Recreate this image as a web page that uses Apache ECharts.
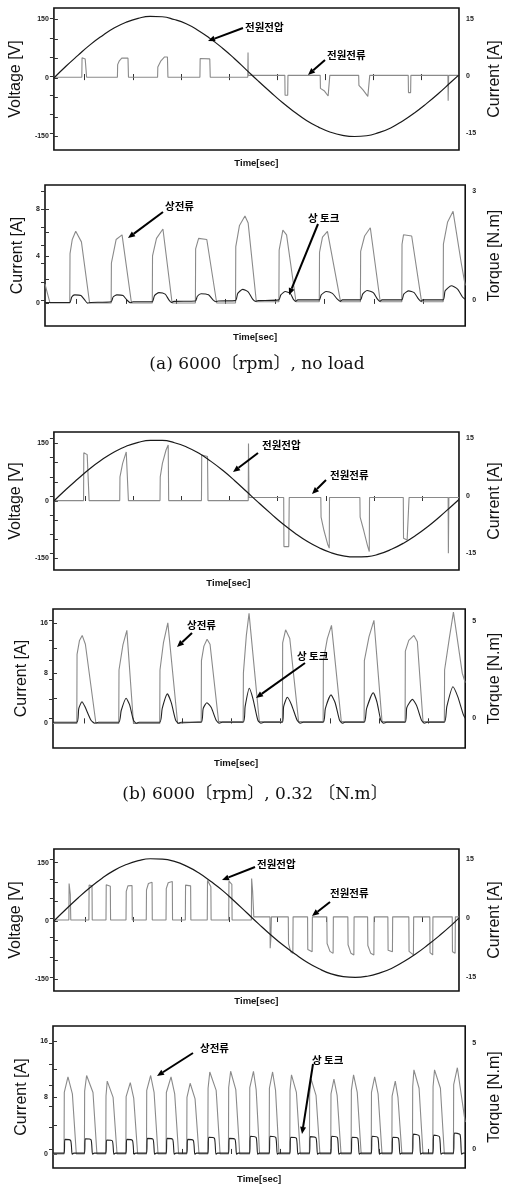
<!DOCTYPE html>
<html>
<head>
<meta charset="utf-8">
<script src="https://cdn.jsdelivr.net/npm/echarts@6.0.0/dist/echarts.min.js"></script>
<style>
  html, body { margin: 0; padding: 0; background: #fff; }
  #chart { width: 511px; height: 1186px; }
</style>
</head>
<body>
<div id="chart"></div>
<script>
// time in ms

// (a) 6000 rpm, no load
var voltA = [[0,0],[0.5,30],[1,58],[1.5,85],[2,108],[2.5,128],[3,143],[3.5,153],[4,158],[4.5,157],[5,150],[5.5,139],[6,122],[6.5,101],[7,77],[7.5,50],[8,21],[8.5,-8],[9,-36],[9.5,-63],[10,-87],[10.5,-109],[11,-126],[11.5,-139],[12,-147],[12.5,-150],[13,-148],[13.5,-140],[14,-128],[14.5,-110],[15,-89],[15.5,-65],[16,-39],[16.5,-11],[16.84,8]];
var lineCurA = [
  [0,-0.3],[1.16,-0.3],[1.17,4.8],[1.3,4.5],[1.35,4.4],[1.36,-0.3],
  [2.64,-0.3],[2.65,3.0],[2.72,4.0],[2.82,4.7],[3.08,4.7],[3.1,-0.3],
  [4.31,-0.3],[4.32,2.4],[4.45,4.0],[4.6,5.0],[4.72,5.0],[4.74,-0.3],
  [6.07,-0.3],[6.08,4.6],[6.48,4.5],[6.5,-0.3],
  [8.06,-0.3],[8.07,6.2],[8.08,0.2],
  [9.6,0.2],[9.61,-5.0],[9.72,-5.0],[9.73,0.2],
  [11.07,0.2],[11.08,-3.2],[11.25,-3.9],[11.4,-5.2],[11.46,-5.2],[11.47,0.2],
  [12.67,0.2],[12.68,-2.4],[12.85,-3.6],[13.05,-5.3],[13.12,-5.3],[13.13,0.2],
  [14.73,0.2],[14.74,-4.3],[14.83,-4.3],[14.84,0.2],
  [16.38,0.2],[16.39,-6.4],[16.41,0.2],[16.84,0.2]
];
var phaseCurA = [
  [0,1.6],[0.2,0],
  [1.0,0],[1.01,4.2],[1.1,5.4],[1.24,6.1],[1.47,5.2],[1.8,0],
  [2.67,0],[2.68,3.4],[2.87,5.4],[3.11,5.8],[3.49,0],
  [4.33,0],[4.34,4.0],[4.5,5.5],[4.76,6.3],[5.13,0],
  [6.07,0],[6.08,4.6],[6.2,5.5],[6.53,5.4],[6.93,0],
  [7.69,0],[7.7,4.8],[7.85,6.6],[8.07,7.4],[8.2,6.8],[8.53,0.1],
  [9.44,0.1],[9.45,4.5],[9.6,6.2],[9.75,5.8],[10.13,0.1],
  [11.07,0.1],[11.08,4.3],[11.2,5.6],[11.4,6.1],[11.93,0.1],
  [12.73,0.1],[12.74,4.4],[12.9,5.7],[13.13,6.4],[13.53,0.1],
  [14.4,0.1],[14.41,5.0],[14.47,5.8],[14.8,5.7],[15.2,0.1],
  [16.07,0.1],[16.08,5.0],[16.25,6.9],[16.47,7.8],[16.8,3.4],[16.96,1.5]
];
var torqueA = [
  [0,-0.07],
  [1.0,-0.07],[1.08,0.08],[1.2,0.14],[1.45,0.12],[1.6,0.0],[1.72,-0.09],[1.85,-0.07],
  [2.67,-0.05],[2.75,0.08],[2.9,0.14],[3.15,0.12],[3.3,0.0],[3.45,-0.08],[3.55,-0.05],
  [4.33,-0.05],[4.42,0.12],[4.6,0.2],[4.85,0.16],[5.0,0.0],[5.1,-0.07],[5.2,-0.04],
  [6.07,-0.03],[6.15,0.1],[6.3,0.17],[6.6,0.14],[6.78,0.0],[6.9,-0.05],[7.0,-0.03],
  [7.69,-0.02],[7.78,0.18],[7.98,0.29],[8.2,0.22],[8.38,0.02],[8.5,-0.04],[8.6,-0.02],
  [9.44,0],[9.52,0.14],[9.7,0.23],[9.9,0.18],[10.02,0.02],[10.12,-0.04],[10.2,0],
  [11.07,0],[11.15,0.14],[11.35,0.23],[11.6,0.18],[11.8,0.02],[11.92,-0.04],[12.0,0],
  [12.73,0],[12.82,0.16],[13.0,0.26],[13.25,0.2],[13.42,0.02],[13.52,-0.04],[13.6,0],
  [14.4,0],[14.48,0.16],[14.68,0.25],[14.9,0.2],[15.08,0.02],[15.18,-0.04],[15.25,0],
  [16.07,0],[16.15,0.25],[16.4,0.39],[16.65,0.3],[16.85,0.08],[16.96,0.02]
];

// (b) 6000 rpm, 0.32 N.m
var voltB = [[0,0],[0.5,30],[1,58],[1.5,85],[2,108],[2.5,128],[3,143],[3.5,153],[4,158],[4.5,158],[5,152],[5.5,141],[6,125],[6.5,104],[7,80],[7.5,53],[8,24],[8.5,-5],[9,-33],[9.5,-60],[10,-84],[10.5,-105],[11,-122],[11.5,-135],[12,-143],[12.5,-146],[13,-145],[13.5,-138],[14,-126],[14.5,-110],[15,-90],[15.5,-67],[16,-41],[16.5,-13],[16.8,4]];
var lineCurB = [
  [0,-1.2],[1.23,-1.2],[1.24,11.3],[1.38,10.8],[1.44,10.5],[1.46,-1.2],
  [2.73,-1.2],[2.74,5.0],[2.85,8.5],[3.0,11.5],[3.07,12.0],[3.09,-1.2],
  [4.4,-1.2],[4.41,5.0],[4.5,8.5],[4.65,12.0],[4.74,13.3],[4.76,-1.2],
  [6.12,-1.2],[6.13,10.7],[6.37,10.3],[6.39,-1.2],
  [8.06,-1.2],[8.07,13.7],[8.09,-0.4],
  [9.53,-0.4],[9.54,-13.2],[9.74,-13.2],[9.76,-0.4],
  [11.07,-0.4],[11.08,-5.5],[11.2,-9.0],[11.35,-12.5],[11.42,-13.6],[11.43,-0.4],
  [12.69,-0.4],[12.7,-5.5],[12.85,-9.0],[13.0,-12.8],[13.08,-14.5],[13.09,-0.4],
  [14.49,-0.4],[14.5,-11.0],[14.65,-11.5],[14.72,-11.6],[14.73,-0.4],
  [16.35,-0.4],[16.36,-14.9],[16.38,-0.4],[16.8,-0.4]
];
var phaseCurB = [
  [0,0],[0.97,0],[0.98,11.0],[1.08,13.2],[1.19,14.0],[1.32,12.6],[1.75,0],
  [2.68,0],[2.69,8.5],[2.85,12.5],[3.01,14.8],[3.28,0],
  [4.35,0],[4.36,8.5],[4.5,12.8],[4.68,16.0],[5.08,0],
  [6.04,0.3],[6.05,10.0],[6.15,12.3],[6.28,13.4],[6.4,12.6],[6.75,0.3],
  [7.75,0.3],[7.76,8.0],[7.88,14.0],[7.99,17.5],[8.41,0.3],
  [9.35,0.3],[9.36,12.8],[9.48,14.9],[9.65,13.5],[10.01,0.3],
  [11.01,0.3],[11.02,10.0],[11.18,13.5],[11.35,15.6],[11.75,0.3],
  [12.68,0.3],[12.69,10.0],[12.88,13.8],[13.08,16.4],[13.41,0.3],
  [14.35,0.3],[14.36,11.5],[14.5,13.2],[14.71,14.0],[14.85,13.0],[15.08,0.3],
  [15.95,0.3],[15.96,8.5],[16.15,13.5],[16.32,17.7],[16.68,8.0],[16.8,6.5]
];
var torqueB = [
  [0,-0.2],[0.97,-0.2],[1.05,0.5],[1.18,0.85],[1.3,0.6],[1.55,-0.1],[1.7,-0.25],[1.85,-0.2],
  [2.68,-0.2],[2.78,0.4],[2.98,1.03],[3.12,0.7],[3.28,-0.1],[3.4,-0.25],[3.5,-0.2],
  [4.35,-0.2],[4.45,0.5],[4.66,1.25],[4.82,0.8],[5.0,-0.1],[5.12,-0.25],[5.22,-0.2],
  [6.04,-0.2],[6.12,0.5],[6.27,0.8],[6.45,0.55],[6.65,-0.1],[6.78,-0.25],[6.9,-0.2],
  [7.75,-0.2],[7.83,0.6],[8.0,1.54],[8.15,1.0],[8.35,-0.1],[8.48,-0.25],[8.6,-0.2],
  [9.35,-0.2],[9.4,0.6],[9.55,1.08],[9.72,0.7],[9.95,-0.1],[10.08,-0.25],[10.2,-0.2],
  [11.01,-0.2],[11.1,0.5],[11.33,1.2],[11.5,0.8],[11.68,-0.1],[11.8,-0.25],[11.9,-0.2],
  [12.68,-0.2],[12.78,0.5],[13.05,1.31],[13.2,0.85],[13.36,-0.1],[13.48,-0.25],[13.6,-0.2],
  [14.35,-0.2],[14.42,0.55],[14.65,0.97],[14.82,0.65],[15.02,-0.1],[15.14,-0.25],[15.25,-0.2],
  [15.95,-0.2],[16.05,0.6],[16.3,1.62],[16.5,1.1],[16.72,0.2],[16.8,0.0]
];

// (c) third operating point
var voltC = [[0,0],[0.5,30],[1,59],[1.5,86],[2,110],[2.5,130],[3,145],[3.5,155],[4,160],[4.5,159],[5,153],[5.5,141],[6,124],[6.5,102],[7,78],[7.5,50],[8,21],[8.5,-8],[9,-36],[9.5,-62],[10,-85],[10.5,-106],[11,-123],[11.5,-136],[12,-143],[12.5,-145],[13,-142],[13.5,-134],[14,-122],[14.5,-105],[15,-85],[15.5,-62],[16,-37],[16.5,-10],[16.8,8]];
var lineCurC = [
  [0,-0.5],[0.62,-0.5],[0.63,8.8],[0.68,6.0],[0.7,-0.5],
  [1.45,-0.5],[1.46,8.4],[1.58,8.2],[1.59,-0.5],
  [2.16,-0.5],[2.17,8.5],[2.34,8.1],[2.35,-0.5],
  [2.99,-0.5],[3.0,6.8],[3.07,8.2],[3.13,8.4],[3.24,8.3],[3.25,-0.5],
  [3.83,-0.5],[3.84,7.2],[3.92,8.8],[3.98,9.2],[4.07,9.1],[4.08,-0.5],
  [4.65,-0.5],[4.66,7.5],[4.74,9.0],[4.8,9.4],[4.91,9.3],[4.92,-0.5],
  [5.45,-0.5],[5.46,8.4],[5.67,8.2],[5.68,-0.5],
  [6.36,-0.5],[6.37,9.6],[6.4,10.1],[6.51,8.0],[6.52,-0.5],
  [7.25,-0.5],[7.26,9.4],[7.38,8.6],[7.39,-0.5],
  [8.19,-0.5],[8.2,10.1],[8.24,7.0],[8.29,0.3],
  [8.96,0.3],[8.97,-7.7],[9.0,-5.0],[9.02,0.3],
  [9.72,0.3],[9.73,-6.5],[9.82,-8.6],[9.91,-9.0],[9.92,0.3],
  [10.52,0.3],[10.53,-8.0],[10.71,-8.6],[10.72,0.3],
  [11.32,0.3],[11.33,-6.5],[11.45,-8.5],[11.58,-9.0],[11.59,0.3],
  [12.19,0.3],[12.2,-6.8],[12.32,-9.0],[12.44,-9.4],[12.45,0.3],
  [13.01,0.3],[13.02,-7.0],[13.14,-9.0],[13.27,-9.4],[13.28,0.3],
  [13.85,0.3],[13.86,-8.2],[14.04,-8.6],[14.05,0.3],
  [14.72,0.3],[14.73,-8.5],[14.91,-9.4],[14.92,0.3],
  [15.59,0.3],[15.6,-8.8],[15.71,-9.4],[15.72,0.3],
  [16.52,0.3],[16.53,-8.6],[16.64,-9.0],[16.65,0.3],[16.8,0.3]
];
var phaseCurC = [
  [0,0],
  [0.45,0],[0.46,8.7],[0.61,10.9],[0.79,8.5],[0.95,0],
  [1.28,0],[1.29,8.9],[1.37,11.1],[1.63,8.7],[1.79,0],
  [2.15,0],[2.16,8.2],[2.21,10.3],[2.45,8.0],[2.61,0],
  [2.97,0],[2.98,8.1],[3.15,10.1],[3.29,7.9],[3.45,0],
  [3.81,0],[3.82,9.0],[3.98,11.1],[4.12,8.7],[4.28,0],
  [4.61,0],[4.62,8.7],[4.81,10.9],[4.96,8.5],[5.12,0],
  [5.45,0],[5.46,8.0],[5.59,10.0],[5.79,7.8],[5.95,0],
  [6.31,0],[6.32,9.3],[6.39,11.6],[6.65,9.0],[6.81,0],
  [7.15,0],[7.16,9.4],[7.24,11.7],[7.45,9.1],[7.61,0],
  [8.01,0],[8.02,9.4],[8.17,11.7],[8.28,9.1],[8.42,0],
  [8.81,0],[8.82,9.3],[8.95,11.6],[9.07,9.0],[9.21,0],
  [9.65,0],[9.66,9.0],[9.72,11.2],[9.92,8.7],[10.08,0],
  [10.45,0],[10.46,8.5],[10.52,10.6],[10.72,8.3],[10.88,0],
  [11.32,0],[11.33,8.5],[11.45,10.6],[11.58,8.3],[11.74,0],
  [12.15,0],[12.16,9.0],[12.25,11.2],[12.4,8.7],[12.56,0],
  [12.97,0],[12.98,8.7],[13.11,10.9],[13.25,8.5],[13.41,0],
  [13.81,0],[13.82,8.2],[13.95,10.3],[14.06,8.0],[14.22,0],
  [14.65,0],[14.66,9.5],[14.71,11.9],[14.92,9.3],[15.08,0],
  [15.48,0],[15.49,9.5],[15.55,11.9],[15.79,9.3],[15.95,0],
  [16.32,0],[16.33,9.8],[16.48,12.2],[16.8,4.5]
];
var torqueC = [
  [0,-0.2],
  [0.45,-0.2],[0.49,0.45],[0.72,0.4],[0.78,-0.25],[0.85,-0.2],
  [1.28,-0.2],[1.32,0.48],[1.55,0.43],[1.61,-0.25],[1.68,-0.2],
  [2.15,-0.2],[2.19,0.42],[2.42,0.38],[2.48,-0.25],[2.55,-0.2],
  [2.97,-0.2],[3.01,0.45],[3.24,0.4],[3.3,-0.25],[3.37,-0.2],
  [3.81,-0.2],[3.85,0.5],[4.08,0.45],[4.14,-0.25],[4.21,-0.2],
  [4.61,-0.2],[4.65,0.5],[4.88,0.45],[4.94,-0.25],[5.01,-0.2],
  [5.45,-0.2],[5.49,0.45],[5.72,0.4],[5.78,-0.25],[5.85,-0.2],
  [6.31,-0.2],[6.35,0.55],[6.58,0.5],[6.64,-0.25],[6.71,-0.2],
  [7.15,-0.2],[7.19,0.5],[7.42,0.45],[7.48,-0.25],[7.55,-0.2],
  [8.01,-0.2],[8.05,0.6],[8.28,0.54],[8.34,-0.25],[8.41,-0.2],
  [8.81,-0.2],[8.85,0.6],[9.08,0.54],[9.14,-0.25],[9.21,-0.2],
  [9.65,-0.2],[9.69,0.55],[9.92,0.5],[9.98,-0.25],[10.05,-0.2],
  [10.45,-0.2],[10.49,0.58],[10.72,0.52],[10.78,-0.25],[10.85,-0.2],
  [11.32,-0.2],[11.36,0.6],[11.59,0.54],[11.65,-0.25],[11.72,-0.2],
  [12.15,-0.2],[12.19,0.55],[12.42,0.5],[12.48,-0.25],[12.55,-0.2],
  [12.97,-0.2],[13.01,0.6],[13.24,0.54],[13.3,-0.25],[13.37,-0.2],
  [13.81,-0.2],[13.85,0.55],[14.08,0.5],[14.14,-0.25],[14.21,-0.2],
  [14.65,-0.2],[14.69,0.7],[14.92,0.63],[14.98,-0.25],[15.05,-0.2],
  [15.48,-0.2],[15.52,0.65],[15.75,0.58],[15.81,-0.25],[15.88,-0.2],
  [16.32,-0.2],[16.36,0.75],[16.59,0.68],[16.65,-0.25],[16.72,-0.2],[16.8,-0.2]
];

// tick positions
var timeTicks = [1.28, 3.28, 5.28, 7.28, 9.28, 11.28, 13.28, 15.28];
var voltTicks = [-150, -100, -50, 0, 50, 100, 150];
var voltLabels = [-150, 0, 150];
var ampTicks = [-15, -10, -5, 0, 5, 10, 15];
var ampLabels = [-15, 0, 15];
var phaseTicksA = [0, 2, 4, 6, 8];
var phaseLabelsA = [0, 4, 8];
var torqueTicksA = [0, 0.5, 1, 1.5, 2, 2.5, 3];
var torqueLabelsA = [0, 3];
var phaseTicksB = [0, 4, 8, 12, 16];
var phaseLabelsB = [0, 8, 16];
var torqueTicksB = [0, 1, 2, 3, 4, 5];
var torqueLabelsB = [0, 5];

var panels = [
  {kind: 'line', left: 45, top: 8, width: 421, height: 142, xMax: 16.84, lMin: -184.6, lMax: 179.5, rMin: -19.3, rMax: 17.8, lGap: 11, rGap: 22, tGap: 8, tPad: 0,
   main: voltA, sub: lineCurA},
  {kind: 'phase', left: 45, top: 185, width: 424, height: 141, xMax: 16.96, lMin: -1.96, lMax: 10.04, rMin: -0.72, rMax: 3.17, lGap: 7, rGap: 19, tGap: 6, tPad: 0,
   main: phaseCurA, sub: torqueA, lt: phaseTicksA, ll: phaseLabelsA, rt: torqueTicksA, rl: torqueLabelsA},
  {kind: 'line', left: 51, top: 432, width: 420, height: 138, xMax: 16.8, lMin: -180, lMax: 180, rMin: -19.3, rMax: 16.7, lGap: 9, rGap: 19, tGap: 8, tPad: 56,
   main: voltB, sub: lineCurB},
  {kind: 'phase', left: 53, top: 609, width: 420, height: 139, xMax: 16.8, lMin: -3.9, lMax: 18.2, rMin: -1.52, rMax: 5.6, lGap: 11, rGap: 16, tGap: 10, tPad: 46,
   main: phaseCurB, sub: torqueB, lt: phaseTicksB, ll: phaseLabelsB, rt: torqueTicksB, rl: torqueLabelsB},
  {kind: 'line', left: 52, top: 849, width: 420, height: 142, xMax: 16.8, lMin: -180, lMax: 185, rMin: -18.6, rMax: 17.6, lGap: 10, rGap: 19, tGap: 5, tPad: 0,
   main: voltC, sub: lineCurC},
  {kind: 'phase', left: 53, top: 1026, width: 420, height: 142, xMax: 16.8, lMin: -1.98, lMax: 18.1, rMin: -0.9, rMax: 5.8, lGap: 11, rGap: 20, tGap: 6, tPad: 0,
   main: phaseCurC, sub: torqueC, lt: phaseTicksB, ll: phaseLabelsB, rt: torqueTicksB, rl: torqueLabelsB}
];

var nameFont = {fontFamily: 'Liberation Sans', fontSize: 16, color: '#111'};
var tickFont = {fontFamily: 'Liberation Sans', fontSize: 7, fontWeight: 'bold', color: '#222'};
var tickStyle = {inside: true, length: 4, lineStyle: {color: '#333', width: 1}};

var grid = [], xAxis = [], yAxis = [], series = [];

panels.forEach(function (p, i) {
  var isLine = p.kind === 'line';
  grid.push({left: p.left, top: p.top, width: p.width, height: p.height, show: true,
    borderColor: '#111', borderWidth: 1.6, backgroundColor: 'transparent'});

  xAxis.push({
    gridIndex: i, type: 'value', min: 0, max: p.xMax,
    name: 'Time[sec]', nameLocation: 'middle', nameGap: p.tGap,
    nameTextStyle: {fontFamily: 'Liberation Sans', fontSize: 9.5, fontWeight: 'bold', color: '#111', padding: [0, p.tPad, 0, 0]},
    axisLine: {show: false}, axisLabel: {show: false}, splitLine: {show: false},
    axisTick: Object.assign({customValues: timeTicks}, tickStyle)
  });
  xAxis.push({
    gridIndex: i, type: 'value', min: 0, max: p.xMax, position: 'top',
    axisLine: {show: false}, axisLabel: {show: false}, splitLine: {show: false},
    axisTick: Object.assign({customValues: timeTicks}, tickStyle)
  });

  yAxis.push({
    gridIndex: i, type: 'value', position: 'left', min: p.lMin, max: p.lMax,
    name: isLine ? 'Voltage [V]' : 'Current [A]', nameLocation: 'middle', nameRotate: 90, nameGap: p.lGap,
    nameTextStyle: nameFont,
    axisLine: {show: false}, splitLine: {show: false},
    axisTick: Object.assign({customValues: isLine ? voltTicks : p.lt}, tickStyle),
    axisLabel: Object.assign({customValues: isLine ? voltLabels : p.ll, margin: 5}, tickFont)
  });
  yAxis.push({
    gridIndex: i, type: 'value', position: 'right', min: p.rMin, max: p.rMax,
    name: isLine ? 'Current [A]' : 'Torque [N.m]', nameLocation: 'middle', nameRotate: 90, nameGap: p.rGap,
    nameTextStyle: nameFont,
    axisLine: {show: false}, splitLine: {show: false},
    axisTick: Object.assign({customValues: isLine ? ampTicks : p.rt}, tickStyle),
    axisLabel: Object.assign({customValues: isLine ? ampLabels : p.rl, margin: 7}, tickFont)
  });

  if (isLine) {
    series.push({type: 'line', name: '전원전류', xAxisIndex: 2 * i, yAxisIndex: 2 * i + 1, data: p.sub,
      showSymbol: false, lineStyle: {color: '#8a8a8a', width: 1.1}});
    series.push({type: 'line', name: '전원전압', xAxisIndex: 2 * i, yAxisIndex: 2 * i, data: p.main,
      smooth: true, showSymbol: false, lineStyle: {color: '#1a1a1a', width: 1.2}});
  } else {
    series.push({type: 'line', name: '상전류', xAxisIndex: 2 * i, yAxisIndex: 2 * i, data: p.main,
      showSymbol: false, lineStyle: {color: '#8a8a8a', width: 1.1}});
    series.push({type: 'line', name: '상 토크', xAxisIndex: 2 * i, yAxisIndex: 2 * i + 1, data: p.sub,
      smooth: 0.2, showSymbol: false, lineStyle: {color: '#222', width: 1.1}});
  }
});

// annotation arrows and labels (pixel positions)
function arrow(x1, y1, x2, y2) {
  var a = Math.atan2(y2 - y1, x2 - x1), L = 7, W = 3;
  var bx = x2 - L * Math.cos(a), by = y2 - L * Math.sin(a);
  return [
    {type: 'line', shape: {x1: x1, y1: y1, x2: bx, y2: by}, style: {stroke: '#000', lineWidth: 2}, z: 100},
    {type: 'polygon', shape: {points: [[x2, y2], [bx - W * Math.sin(a), by + W * Math.cos(a)], [bx + W * Math.sin(a), by - W * Math.cos(a)]]},
     style: {fill: '#000'}, z: 100}
  ];
}
function note(text, x, y) {
  return {type: 'text', x: x, y: y, z: 100,
    style: {text: text, fill: '#000', font: 'bold 10.5px "Noto Sans CJK KR"', align: 'left', verticalAlign: 'middle'}};
}
function caption(text, x, y) {
  return {type: 'text', x: x, y: y, z: 100,
    style: {text: text, fill: '#111', font: '17px "DejaVu Serif", "Noto Sans CJK KR"', align: 'center', verticalAlign: 'middle'}};
}

var graphic = [].concat(
  note('전원전압', 245, 27), arrow(243, 28, 208, 41),
  note('전원전류', 327, 55), arrow(325, 60, 308, 75),
  note('상전류', 165, 206), arrow(163, 212, 128, 238),
  note('상 토크', 308, 218), arrow(318, 224, 289, 295),
  caption('(a) 6000〔rpm〕, no load', 257, 365),
  note('전원전압', 262, 445), arrow(258, 453, 233, 472),
  note('전원전류', 330, 475), arrow(326, 480, 312, 494),
  note('상전류', 187, 625), arrow(192, 633, 177, 647),
  note('상 토크', 297, 656), arrow(305, 663, 256, 698),
  caption('(b) 6000〔rpm〕, 0.32 〔N.m〕', 255, 795),
  note('전원전압', 257, 864), arrow(255, 867, 222, 880),
  note('전원전류', 330, 893), arrow(330, 902, 312, 916),
  note('상전류', 200, 1048), arrow(193, 1053, 157, 1076),
  note('상 토크', 312, 1060), arrow(313, 1064, 302, 1134)
);

var option = {
  backgroundColor: '#fff',
  animation: false,
  grid: grid,
  xAxis: xAxis,
  yAxis: yAxis,
  series: series,
  graphic: graphic
};

var chart = echarts.init(document.getElementById('chart'), null, {renderer: 'canvas'});
chart.setOption(option);
</script>
</body>
</html>
